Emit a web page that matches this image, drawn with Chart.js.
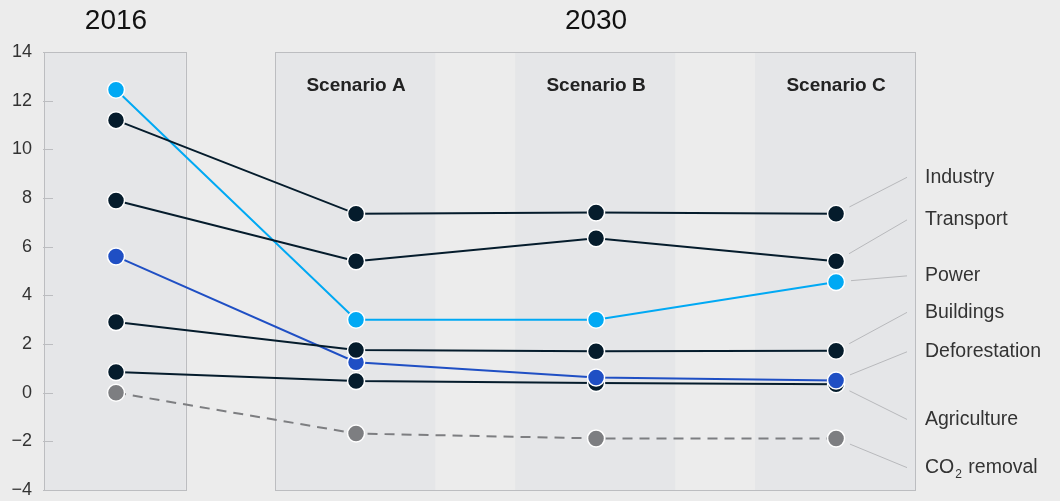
<!DOCTYPE html>
<html>
<head>
<meta charset="utf-8">
<script src="https://cdn.jsdelivr.net/npm/chart.js@4"></script>
<style>
  html, body { margin: 0; padding: 0; background: #ececec; overflow: hidden; }
  #wrap { position: relative; width: 1060px; height: 501px; }
</style>
</head>
<body>
<div id="wrap"><canvas id="canvas1"></canvas></div>
<script>
// x positions and their labels
let columns   = ['2016', 'Scenario A', 'Scenario B', 'Scenario C'];
let xPos      = [0, 1, 2, 3];
let groups    = ['2016', '2030'];

// emissions per sector
let industry      = [11.2, 7.35, 7.4, 7.35];
let transport     = [7.9, 5.4, 6.35, 5.4];
let power         = [12.45, 3.0, 3.0, 4.55];
let buildings     = [2.9, 1.75, 1.7, 1.72];
let deforestation = [5.6, 1.25, 0.62, 0.5];
let agriculture   = [0.85, 0.48, 0.4, 0.35];
let co2Removal    = [0, -1.68, -1.88, -1.88];

// label text on the right, top to bottom
let sectorNames = ['Industry', 'Transport', 'Power', 'Buildings', 'Deforestation', 'Agriculture', 'CO2 removal'];
let sectorData  = [industry, transport, power, buildings, deforestation, agriculture, co2Removal];

// where each right-hand label sits (in y units)
let labelAt = [8.85, 7.1, 4.8, 3.3, 1.68, -1.1, -3.08];

let navy = '#051c2c';
let cyan = '#00a9f4';
let blue = '#1f4fc4';
let grey = '#7d7e81';
let sectorColors = [navy, navy, cyan, navy, blue, navy, grey];

let font = "'Liberation Sans', Arial, sans-serif";

function points(arr) {
  let out = [];
  for (let i = 0; i < arr.length; i++) {
    out.push({x: xPos[i], y: arr[i]});
  }
  return out;
}

function makeSet(idx, dash) {
  return {
    label: sectorNames[idx],
    data: points(sectorData[idx]),
    borderColor: sectorColors[idx],
    backgroundColor: sectorColors[idx],
    borderWidth: 2,
    borderDash: dash || [],
    pointRadius: 8.5,
    pointBorderColor: '#ffffff',
    pointBorderWidth: 1.5,
    pointBackgroundColor: sectorColors[idx],
    tension: 0,
    fill: false
  };
}

// first dataset ends up on top
let datasets = [
  makeSet(3),
  makeSet(4),
  makeSet(5),
  makeSet(0),
  makeSet(1),
  makeSet(2),
  makeSet(6, [10, 7])
];

let decor = {
  id: 'decor',
  beforeDraw(chart) {
    let ctx = chart.ctx;
    let x = chart.scales.x, y = chart.scales.y;
    let top = chart.chartArea.top, bottom = chart.chartArea.bottom;
    ctx.save();
    ctx.fillStyle = '#ececec';
    ctx.fillRect(0, 0, chart.width, chart.height);

    // 2016 panel
    let l = x.getPixelForValue(-0.3), r = x.getPixelForValue(0.29);
    ctx.fillStyle = '#e5e6e8';
    ctx.fillRect(l, top, r - l, bottom - top);
    ctx.strokeStyle = '#bcbdc0';
    ctx.lineWidth = 1;
    ctx.strokeRect(Math.round(l) + 0.5, Math.round(top) + 0.5, Math.round(r - l), Math.round(bottom - top));

    // 2030 panel with a band per scenario
    let l2 = x.getPixelForValue(0.6625), r2 = x.getPixelForValue(3.33);
    for (let i = 1; i < 4; i++) {
      let a = x.getPixelForValue(xPos[i] - 0.3375), b = x.getPixelForValue(xPos[i] + 0.33);
      ctx.fillStyle = '#e5e6e8';
      ctx.fillRect(a, top, b - a, bottom - top);
    }
    ctx.strokeRect(Math.round(l2) + 0.5, Math.round(top) + 0.5, Math.round(r2 - l2), Math.round(bottom - top));

    // small tick marks on the y axis
    ctx.strokeStyle = '#bcbdc0';
    for (let v = -4; v <= 14; v += 2) {
      let py = Math.round(y.getPixelForValue(v)) + 0.5;
      ctx.beginPath();
      ctx.moveTo(l - 1, py);
      ctx.lineTo(l + 9, py);
      ctx.stroke();
    }

    // group headings
    ctx.fillStyle = '#111';
    ctx.font = '28px ' + font;
    ctx.textAlign = 'center';
    ctx.textBaseline = 'middle';
    ctx.fillText(groups[0], x.getPixelForValue(xPos[0]), 21);
    ctx.fillText(groups[1], x.getPixelForValue(xPos[2]), 21);

    // scenario headings
    ctx.font = 'bold 19px ' + font;
    ctx.fillStyle = '#222';
    for (let i = 1; i < 4; i++) {
      ctx.fillText(columns[i], x.getPixelForValue(xPos[i]), 86);
    }
    ctx.restore();
  },
  beforeDatasetsDraw(chart) {
    // leader lines from last point to the labels
    let ctx = chart.ctx;
    let x = chart.scales.x, y = chart.scales.y;
    ctx.save();
    ctx.strokeStyle = '#b8b9bc';
    ctx.lineWidth = 1;
    let endX = chart.chartArea.right - 9;
    for (let i = 0; i < sectorNames.length; i++) {
      let arr = sectorData[i];
      let px = x.getPixelForValue(xPos[3]), py = y.getPixelForValue(arr[3]);
      let ey = y.getPixelForValue(labelAt[i]);
      let dx = endX - px, dy = ey - py;
      let len = Math.sqrt(dx * dx + dy * dy);
      ctx.beginPath();
      ctx.moveTo(px + dx / len * 15, py + dy / len * 15);
      ctx.lineTo(endX, ey);
      ctx.stroke();
    }
    ctx.restore();
  },
  afterDraw(chart) {
    let ctx = chart.ctx;
    let y = chart.scales.y;
    ctx.save();
    ctx.fillStyle = '#333';
    ctx.font = '19.5px ' + font;
    ctx.textAlign = 'left';
    ctx.textBaseline = 'middle';
    let tx = chart.chartArea.right + 9;
    for (let i = 0; i < sectorNames.length; i++) {
      let ly = y.getPixelForValue(labelAt[i]);
      let name = sectorNames[i];
      if (name.indexOf('CO2') === 0) {
        ctx.fillText('CO', tx, ly);
        let w = ctx.measureText('CO').width;
        ctx.font = '12px ' + font;
        ctx.fillText('2', tx + w + 1, ly + 7);
        let w2 = ctx.measureText('2').width;
        ctx.font = '19.5px ' + font;
        ctx.fillText(name.slice(3), tx + w + w2 + 2, ly);
      } else {
        ctx.fillText(name, tx, ly);
      }
    }
    ctx.restore();
  }
};

let options = {
  type: 'line',
  data: { datasets: datasets },
  options: {
    responsive: true,
    maintainAspectRatio: false,
    animation: false,
    layout: { padding: { top: 52, bottom: 11, left: 0, right: 144 } },
    plugins: {
      legend: { display: false },
      tooltip: { enabled: false },
      title: { display: false }
    },
    scales: {
      x: {
        type: 'linear',
        min: -0.3,
        max: 3.333,
        display: false
      },
      y: {
        min: -4,
        max: 14,
        // tick length (not drawn) gives the gap between labels and panel
        grid: { display: false, drawTicks: true, tickLength: 12 },
        border: { display: false },
        afterFit: function(axis) { axis.width = 44; },
        ticks: {
          stepSize: 2,
          padding: 0,
          color: '#333',
          font: { size: 18, family: font },
          callback: function(v) { return String(v).replace('-', '\u2212'); }
        }
      }
    }
  },
  plugins: [decor]
};

let chart = new Chart(document.getElementById('canvas1'), options);
</script>
</body>
</html>
